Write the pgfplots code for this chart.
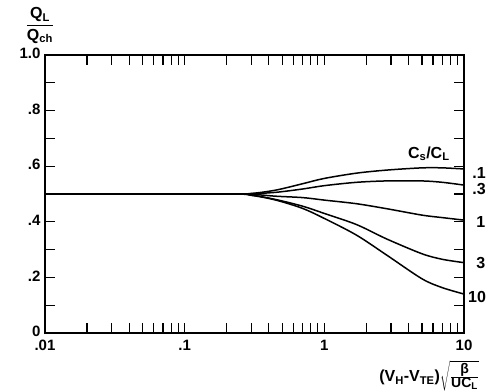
\documentclass[border=0pt]{standalone}
\usepackage{fontspec}
\setmainfont{Liberation Sans}
\usepackage{pgfplots}
\pgfplotsset{compat=1.18}
\begin{document}
\begin{tikzpicture}
\begin{axis}[
  scale only axis, width=419pt, height=278pt,
  xmode=log, xmin=0.01, xmax=10, ymin=0, ymax=1,
  xtick={0.01,0.1,1,10}, xticklabels={.01,.1,1,10},
  minor xtick={0.02,0.03,0.04,0.05,0.06,0.07,0.08,0.09,0.2,0.3,0.4,0.5,0.6,0.7,0.8,0.9,2,3,4,5,6,7,8,9},
  ytick={0,0.2,0.4,0.6,0.8,1}, yticklabels={0,.2,.4,.6,.8,1.0},
  minor ytick={0.1,0.3,0.5,0.7,0.9},
  tick align=inside, major tick length=10pt, minor tick length=10pt,
  every tick/.style={line width=1.1pt, black},
  axis line style={line width=1.8pt},
  tick label style={font=\bfseries\fontsize{15}{17}\selectfont},
  xticklabel style={yshift=-4pt},
  yticklabel style={xshift=-1pt, yshift=1.5pt},
  clip=false,
]
\path (rel axis cs:-0.1074,-0.2122) rectangle (rel axis cs:1.0716,1.1978);
% Cs/CL = .1
\addplot[smooth, line width=1.5pt] coordinates {(0.01,0.5) (0.2,0.5) (0.3,0.502) (0.45,0.514) (0.7,0.537) (1,0.556) (1.7,0.575) (2.8,0.586) (5,0.594) (7,0.594) (10,0.59)};
% .3
\addplot[smooth, line width=1.5pt] coordinates {(0.01,0.5) (0.2,0.5) (0.3,0.501) (0.45,0.506) (0.7,0.518) (1,0.53) (1.7,0.542) (2.8,0.547) (5,0.547) (7,0.542) (10,0.532)};
% 1
\addplot[smooth, line width=1.5pt] coordinates {(0.01,0.5) (0.2,0.5) (0.3,0.499) (0.45,0.492) (0.7,0.487) (1,0.478) (1.7,0.465) (2.8,0.447) (5,0.424) (7,0.415) (10,0.406)};
% 3
\addplot[smooth, line width=1.5pt] coordinates {(0.01,0.5) (0.2,0.5) (0.3,0.496) (0.45,0.48) (0.7,0.456) (1,0.43) (1.7,0.39) (2.8,0.338) (5,0.285) (7,0.265) (10,0.253)};
% 10
\addplot[smooth, line width=1.5pt] coordinates {(0.01,0.5) (0.2,0.5) (0.3,0.495) (0.45,0.478) (0.7,0.448) (1,0.412) (1.7,0.352) (2.8,0.28) (5,0.195) (7,0.163) (10,0.14)};
\begin{scope}[every node/.style={font=\bfseries\fontsize{16}{18}\selectfont}]
\node at (axis cs:12.8,0.575) {.1};
\node at (axis cs:12.8,0.518) {.3};
\node at (axis cs:13.2,0.40) {1};
\node at (axis cs:13.2,0.25) {3};
\node at (axis cs:12.4,0.13) {10};
\node at (axis cs:5.6,0.645) {C\textsubscript{s}/C\textsubscript{L}};
\node at (rel axis cs:-0.012,1.105) {\setlength{\arrayrulewidth}{1.4pt}\begin{tabular}{@{}c@{}}Q\textsubscript{L}\\[1pt]\hline\rule{0pt}{14pt}Q\textsubscript{ch}\end{tabular}};
\node[inner sep=0pt] at (rel axis cs:0.917,-0.155) {(V\textsubscript{H}-V\textsubscript{TE})$\sqrt{\frac{\mbox{\bfseries\fontsize{14}{16}\selectfont β}}{\mbox{\bfseries\fontsize{14}{16}\selectfont UC\textsubscript{L}}}}$};
\end{scope}
\end{axis}
\end{tikzpicture}
\end{document}
